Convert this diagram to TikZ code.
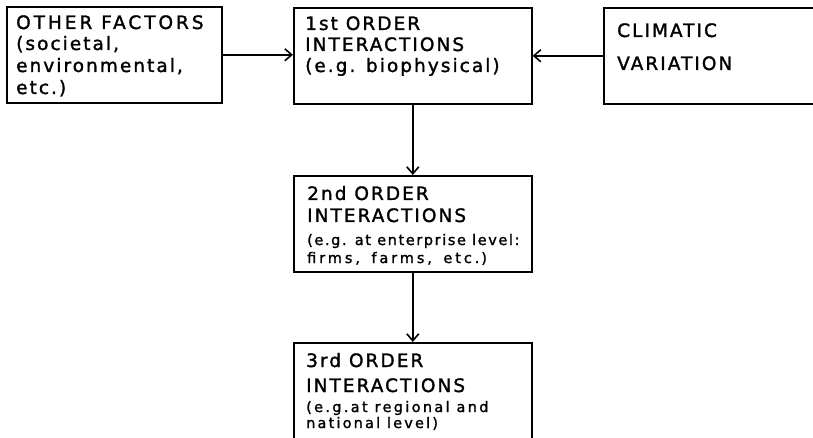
\documentclass[tikz,border=0pt]{standalone}
\usepackage{fontspec}
\setmainfont{DejaVu Sans}[LetterSpace=11,FakeBold=1.5]
\usetikzlibrary{arrows.meta}
\begin{document}
\begin{tikzpicture}[x=1pt,y=-1pt,
  box/.style={draw, line width=1.6pt, inner sep=0pt, anchor=north west},
  big/.style={anchor=base west, inner sep=0pt, font=\fontsize{18.5}{20}\selectfont},
  small/.style={anchor=base west, inner sep=0pt, font=\fontsize{14.5}{16}\selectfont},
  arr/.style={line width=1.6pt, -{Straight Barb[length=7pt,width=12pt,line width=1.6pt]}}]
\useasboundingbox (0,0) rectangle (813,438);
\clip (0,0) rectangle (813,438);
% boxes
\node[box, minimum width=215pt, minimum height=96pt] (of) at (6,6) {};
\node[box, minimum width=238pt, minimum height=96pt] (b1) at (293,7) {};
\node[box, minimum width=215pt, minimum height=96pt] (cv) at (603,7) {};
\node[box, minimum width=238pt, minimum height=96pt] (b2) at (293,175) {};
\node[box, minimum width=238pt, minimum height=110pt] (b3) at (293,342) {};
% texts
\node[big] (of1) at (16,29) {\addfontfeature{LetterSpace=16}OTHER FACTORS};
\node[big] (of2) at (16,50) {(societal,};
\node[big] (of3) at (16,72) {environmental,};
\node[big] (of4) at (16,94) {etc.)};
\node[big] (t11) at (305,30) {1st ORDER};
\node[big] (t12) at (305,51) {INTERACTIONS};
\node[big] (t13) at (305,72) {(e.g. biophysical)};
\node[big] (cv1) at (617,37) {CLIMATIC};
\node[big] (cv2) at (617,70) {VARIATION};
\node[big] (t21) at (307,200) {2nd ORDER};
\node[big] (t22) at (307,222) {INTERACTIONS};
\node[small] (t23) at (307,245) {(e.g. at enterprise level:};
\node[small] (t24) at (307,263) {\addfontfeature{LetterSpace=20}firms,\hspace{4pt} farms,\hspace{4pt} etc.\hspace{2pt})};
\node[small] (t33) at (306,412) {\addfontfeature{LetterSpace=16}(e.g.at regional and};
\node[small] (t34) at (306,428) {\addfontfeature{LetterSpace=15}national level)};
\node[big] (t31) at (306,367) {3rd ORDER};
\node[big] (t32) at (306,392) {INTERACTIONS};
% arrows
\draw[arr] (of.east) -- (of.east -| b1.west);
\draw[arr] (cv.west) -- (cv.west -| b1.east);
\draw[arr] (b1.south) -- (b2.north);
\draw[arr] (b2.south) -- (b3.north);
\end{tikzpicture}
\end{document}
